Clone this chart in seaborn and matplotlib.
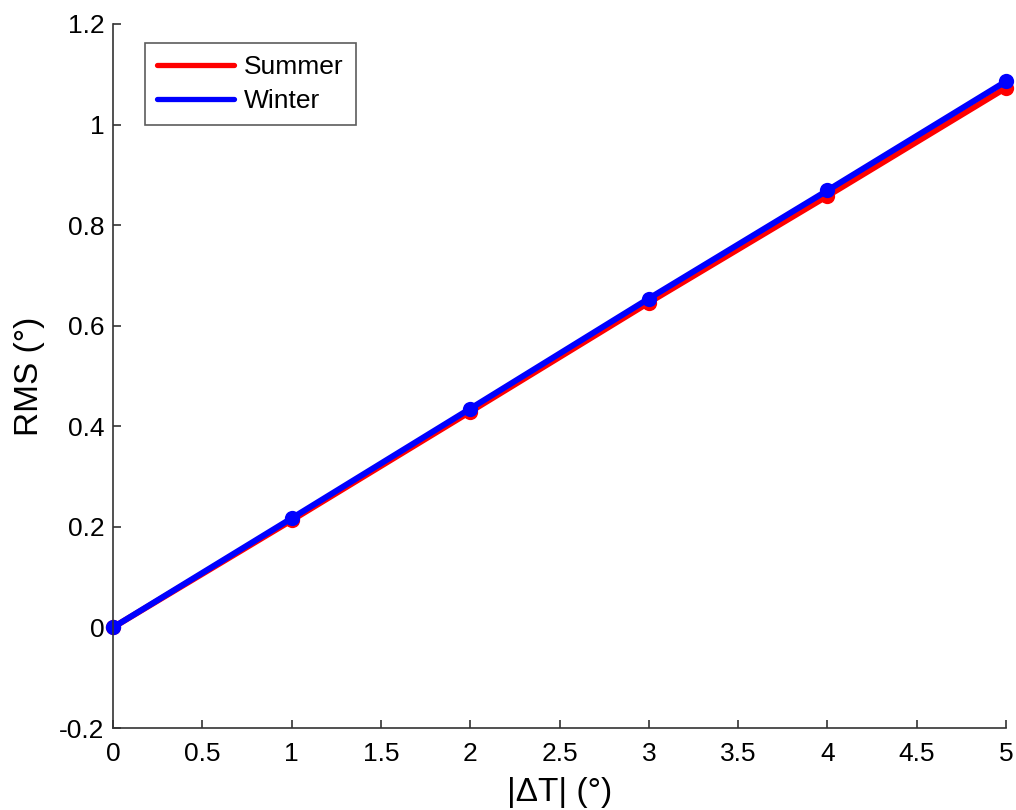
import matplotlib
matplotlib.use("Agg")
import matplotlib.pyplot as plt
import seaborn as sns
import pandas as pd

delta_t = [0, 1, 2, 3, 4, 5]
summer_rms = [0.0, 0.213, 0.429, 0.646, 0.858, 1.073]
winter_rms = [0.0, 0.217, 0.435, 0.654, 0.869, 1.086]
series_names = ["Summer", "Winter"]
colors = {"Summer": "#ff0000", "Winter": "#0000ff"}
x_ticks = [0, 0.5, 1, 1.5, 2, 2.5, 3, 3.5, 4, 4.5, 5]
x_tick_labels = ["0", "0.5", "1", "1.5", "2", "2.5", "3", "3.5", "4", "4.5", "5"]
y_ticks = [-0.2, 0, 0.2, 0.4, 0.6, 0.8, 1.0, 1.2]
y_tick_labels = ["-0.2", "0", "0.2", "0.4", "0.6", "0.8", "1", "1.2"]

df = pd.DataFrame({
    "dT": delta_t * 2,
    "rms": summer_rms + winter_rms,
    "season": [series_names[0]] * len(delta_t) + [series_names[1]] * len(delta_t),
})

sns.set_style("ticks")
plt.rcParams["font.family"] = ["Liberation Sans", "DejaVu Sans"]
plt.rcParams["text.color"] = "black"
plt.rcParams["axes.labelcolor"] = "black"

fig = plt.figure(figsize=(10.16, 8.10), dpi=100)
ax = fig.add_axes([0.1112, 0.1012, 0.879, 0.8692])

sns.lineplot(data=df, x="dT", y="rms", hue="season", palette=colors,
             marker="o", markersize=11, markeredgewidth=0, linewidth=4.3,
             ax=ax, legend=True, clip_on=False)

ax.set_xlim(0, 5)
ax.set_ylim(-0.2, 1.2)
ax.set_xticks(x_ticks)
ax.set_xticklabels(x_tick_labels)
ax.set_yticks(y_ticks)
ax.set_yticklabels(y_tick_labels)
ax.tick_params(direction="in", length=6, width=1.2, labelsize=19, colors="#333333",
               labelcolor="black")
ax.tick_params(axis="x", pad=10)
ax.tick_params(axis="y", pad=6)
for s in ["top", "right"]:
    ax.spines[s].set_visible(False)
for s in ["left", "bottom"]:
    ax.spines[s].set_color("#333333")
    ax.spines[s].set_linewidth(1.2)

ax.set_xlabel("|\u0394T| (\u00b0)", fontsize=24, labelpad=8, color="black")
ax.set_ylabel("RMS (\u00b0)", fontsize=24, labelpad=10, color="black")

leg = ax.legend(loc="upper left", bbox_to_anchor=(0.036, 0.973), fontsize=19,
                frameon=True, fancybox=False, handlelength=2.9, borderpad=0.45,
                labelspacing=0.4, handletextpad=0.4, borderaxespad=0)
leg.get_frame().set_edgecolor("#333333")
leg.get_frame().set_linewidth(1.2)
for t in leg.get_texts():
    t.set_color("black")
for line in leg.get_lines():
    line.set_marker("")
    line.set_linewidth(3.8)

fig.savefig("out.png", dpi=100)
